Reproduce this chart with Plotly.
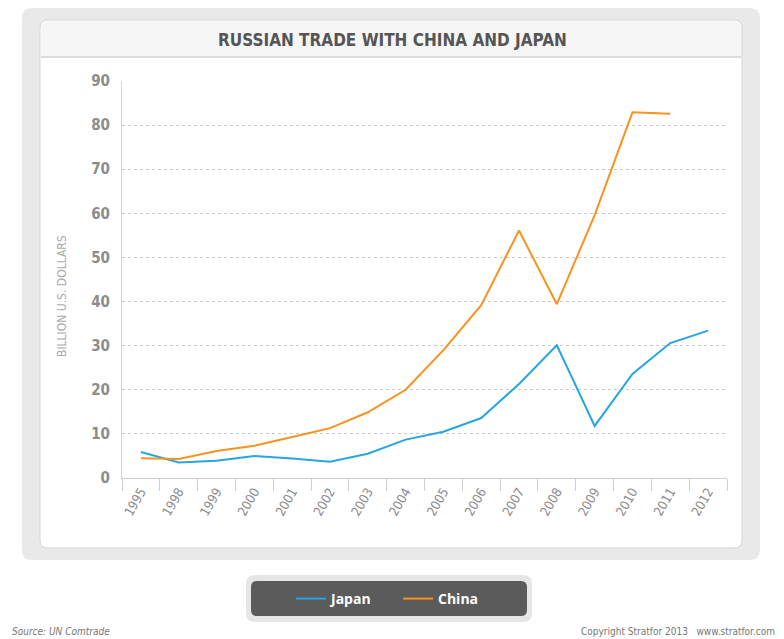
import plotly.graph_objects as go

years = ["1995", "1998", "1999", "2000", "2001", "2002", "2003", "2004",
         "2005", "2006", "2007", "2008", "2009", "2010", "2011", "2012"]
japan = [5.9, 3.5, 3.9, 5.0, 4.4, 3.7, 5.5, 8.7, 10.5, 13.6, 21.3, 30.1,
         11.8, 23.6, 30.6, 33.4]
china = [4.5, 4.3, 6.1, 7.3, 9.3, 11.3, 14.9, 20.0, 29.0, 39.2, 56.1, 39.4,
         59.6, 82.9, 82.6, None]

W, H = 784, 639
L, R, T, B = 122, 727, 81, 478


def px(x):
    return (x - L) / (R - L)


def py(y):
    return (B - y) / (B - T)


def rrect(x0, y0, x1, y1, r):
    pts = [
        ("M", [(x0 + r, y0)]), ("L", [(x1 - r, y0)]), ("Q", [(x1, y0), (x1, y0 + r)]),
        ("L", [(x1, y1 - r)]), ("Q", [(x1, y1), (x1 - r, y1)]),
        ("L", [(x0 + r, y1)]), ("Q", [(x0, y1), (x0, y1 - r)]),
        ("L", [(x0, y0 + r)]), ("Q", [(x0, y0), (x0 + r, y0)]),
    ]
    s = ""
    for cmd, ps in pts:
        s += cmd + " " + " ".join(f"{px(a):.5f},{py(b):.5f}" for a, b in ps) + " "
    return s + "Z"


fig = go.Figure()
fig.add_trace(go.Scatter(x=years, y=japan, mode="lines", name="Japan",
                         line=dict(color="#27a6df", width=2)))
fig.add_trace(go.Scatter(x=years, y=china, mode="lines", name="China",
                         line=dict(color="#f7931e", width=2)))

shapes = [
    dict(type="path", path=rrect(22, 8, 760, 560, 10), xref="paper", yref="paper",
         fillcolor="#e9e9e9", line=dict(width=0), layer="below"),
    dict(type="path", path=rrect(40, 20, 742, 548, 8), xref="paper", yref="paper",
         fillcolor="#ffffff", line=dict(color="#d6d6d6", width=1), layer="below"),
    dict(type="path", path=rrect(41, 21, 741, 70, 7), xref="paper", yref="paper",
         fillcolor="#f6f6f6", line=dict(width=0), layer="below"),
    dict(type="rect", x0=px(41), x1=px(741), y0=py(70), y1=py(57), xref="paper", yref="paper",
         fillcolor="#ffffff", line=dict(width=0), layer="below"),
    dict(type="line", x0=px(41), x1=px(741), y0=py(57), y1=py(57), xref="paper", yref="paper",
         line=dict(color="#d2d2d2", width=1.5), layer="below"),
    dict(type="path", path=rrect(246, 575, 532, 622, 9), xref="paper", yref="paper",
         fillcolor="#e6e6e6", line=dict(width=0), layer="below"),
    dict(type="path", path=rrect(251, 581, 527, 616, 6), xref="paper", yref="paper",
         fillcolor="#5b5b5b", line=dict(width=0), layer="below"),
]

cond = "DejaVu Sans Condensed, Liberation Sans Narrow, sans-serif"

annotations = [
    dict(text="<b>RUSSIAN TRADE WITH CHINA AND JAPAN</b>", x=px(392), y=py(40),
         xref="paper", yref="paper", showarrow=False, xanchor="center", yanchor="middle",
         font=dict(family=cond, size=17, color="#555555")),
    dict(text="BILLION U.S. DOLLARS", x=px(62), y=py(296), xref="paper", yref="paper",
         showarrow=False, textangle=-90, xanchor="center", yanchor="middle",
         font=dict(family=cond, size=12, color="#ababab")),
    dict(text="<i>Source: UN Comtrade</i>", x=px(10), y=py(631), xref="paper", yref="paper",
         showarrow=False, xanchor="left", yanchor="middle",
         font=dict(family=cond, size=10, color="#777777")),
    dict(text="Copyright Stratfor 2013   www.stratfor.com", x=px(777), y=py(631),
         xref="paper", yref="paper", showarrow=False, xanchor="right", yanchor="middle",
         font=dict(family=cond, size=10, color="#777777")),
]

fig.update_layout(
    width=W, height=H,
    margin=dict(l=L, r=W - R, t=T, b=H - B),
    paper_bgcolor="#ffffff", plot_bgcolor="#f2f2f4",
    shapes=shapes, annotations=annotations,
    showlegend=True,
    legend=dict(orientation="h", x=px(291), y=py(599), xref="paper", yref="paper",
                xanchor="left", yanchor="middle", bgcolor="rgba(0,0,0,0)",
                font=dict(family="Open Sans, sans-serif", size=14, color="#ffffff",
                          weight="bold"),
                itemwidth=30, entrywidth=62, tracegroupgap=0),
    xaxis=dict(type="category", range=[-0.5, 15.5], tickson="boundaries",
               ticks="outside", ticklen=12, tickcolor="#cfcfcf", tickwidth=1,
               tickangle=-60, showgrid=False, showline=True, linecolor="#cfcfcf",
               linewidth=1, tickfont=dict(family=cond, size=13, color="#8c8c8c"),
               fixedrange=True),
    yaxis=dict(range=[0, 90], dtick=10, showgrid=True, gridcolor="#c8c8c8",
               griddash="dot", gridwidth=1, zeroline=False, showline=True,
               linecolor="#d5d5d5", ticks="outside", ticklen=8,
               tickcolor="rgba(0,0,0,0)",
               tickfont=dict(family=cond, size=15, color="#8c8c8c", weight="bold"),
               fixedrange=True),
)

fig.write_html("out.html")
